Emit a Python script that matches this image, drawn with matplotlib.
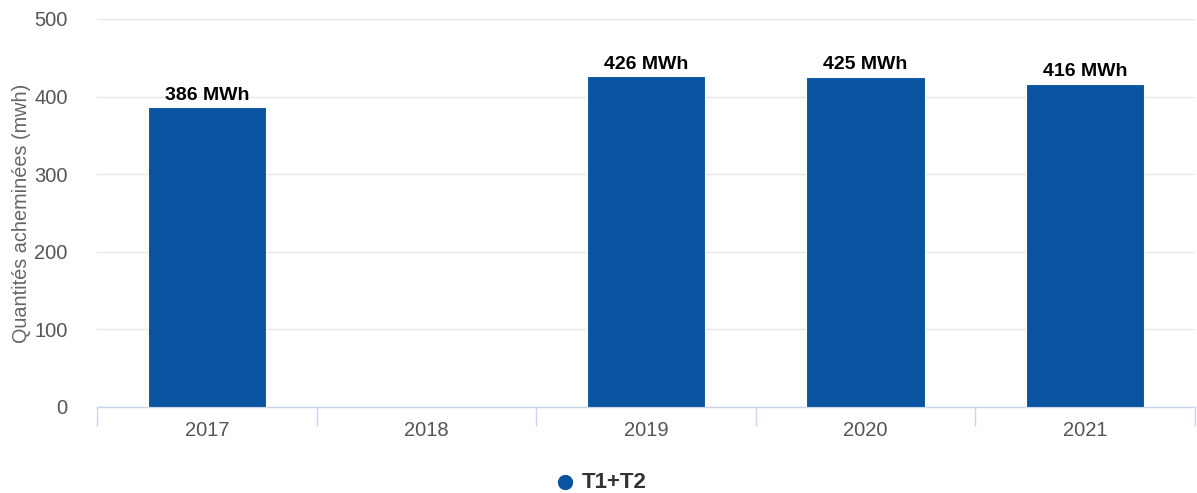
import matplotlib
matplotlib.use("Agg")
import matplotlib.pyplot as plt
from matplotlib.lines import Line2D
import numpy as np

categories = ["2017", "2018", "2019", "2020", "2021"]
values = [386, None, 426, 425, 416]
labels = ["386 MWh", None, "426 MWh", "425 MWh", "416 MWh"]
series_name = "T1+T2"
yticks = [0, 100, 200, 300, 400, 500]

plt.rcParams['font.family'] = ['Liberation Sans', 'DejaVu Sans']

fig = plt.figure(figsize=(11.97, 4.93), dpi=100)
ax = fig.add_axes([97/1197, 86/493, (1195-97)/1197, (407-19)/493])

color = "#0a53a1"
x = np.arange(len(categories))
for xi, v, lab in zip(x, values, labels):
    if v is None:
        continue
    ax.bar(xi, v, width=0.54, color=color, edgecolor="white", linewidth=0.8, zorder=3)
    ax.text(xi, v + 5, lab, ha="center", va="bottom", fontsize=14,
            fontweight="bold", color="black", zorder=4)

ax.set_xlim(-0.5, len(categories) - 0.5)
ax.set_ylim(0, 500)
ax.set_yticks(yticks)
ax.set_yticklabels([str(t) for t in yticks], fontsize=14.5, color="#555555")
ax.tick_params(axis="y", length=0, pad=21)
ax.yaxis.grid(True, color="#e6e6e6", linewidth=1, zorder=0)

ax.set_xticks(x)
ax.set_xticklabels(categories, fontsize=14.5, color="#555555")
ax.tick_params(axis="x", length=0, pad=10)
ax.set_xticks(np.arange(-0.5, len(categories)), minor=True)
ax.tick_params(axis="x", which="minor", length=14, color="#ccd6eb", width=1, direction="out")

for s in ["top", "right", "left"]:
    ax.spines[s].set_visible(False)
ax.spines["bottom"].set_color("#ccd6eb")
ax.spines["bottom"].set_linewidth(1)

ax.set_ylabel("Quantités acheminées (mwh)", fontsize=14.3, color="#666666")
ax.yaxis.set_label_coords(-0.06, 0.5)

ly = 1 - 482/493
fig.add_artist(Line2D([565/1197], [ly], marker="o", markersize=10, color=color,
                      linestyle="none", transform=fig.transFigure))
fig.text(582/1197, ly, series_name, color="#333333", fontsize=16,
         fontweight="bold", ha="left", va="center")

fig.savefig("out.png", dpi=100, facecolor="white")
